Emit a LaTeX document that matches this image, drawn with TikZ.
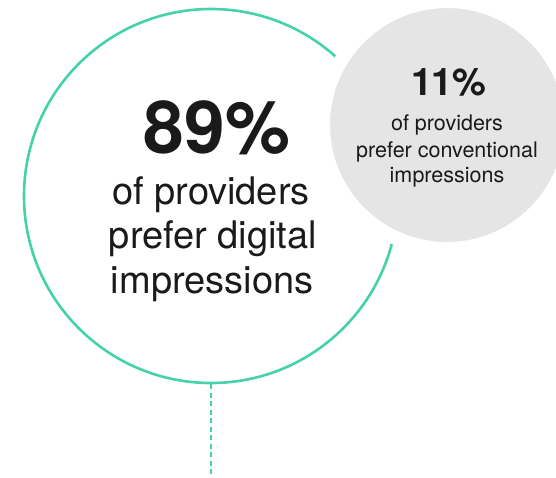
\documentclass[tikz,border=0pt]{standalone}
\usepackage{fontspec}
\setmainfont{TeX Gyre Heros}
\definecolor{mint}{HTML}{45D1AA}
\definecolor{softgrey}{HTML}{E5E5E5}
\definecolor{ink}{HTML}{1A1A1A}
\begin{document}
\begin{tikzpicture}[x=1pt,y=-1pt,
  ring/.style={draw=mint,line width=2.6pt},
  bigtxt/.style={anchor=base,text=ink,inner sep=0pt,font=\fontsize{38}{38}\selectfont},
  bignum/.style={anchor=base,text=ink,inner sep=0pt,font=\bfseries\fontsize{73}{73}\selectfont},
  smalltxt/.style={anchor=base,text=ink,inner sep=0pt,font=\fontsize{21.5}{21.5}\selectfont},
  smallnum/.style={anchor=base,text=ink,inner sep=0pt,font=\bfseries\fontsize{38}{38}\selectfont}]
\useasboundingbox (0,0) rectangle (556,477);
\begin{scope}
\clip (0,0) rectangle (556,477);
\node[ring,circle,minimum size=374pt,inner sep=0pt] (big) at (211,196) {};
\coordinate (lineend) at (211,477);
\draw[mint,line width=2.6pt,dash pattern=on 5pt off 3.5pt] (big.south) -- (lineend);
\node[circle,fill=softgrey,draw=white,line width=14pt,minimum size=248pt,inner sep=0pt] (small) at (447,125) {};
\end{scope}
\node[bignum] (pct) at (217,153) {89\%};
\node[bigtxt] (l1) at (211,204) {of providers};
\node[bigtxt] (l2) at (213,248) {prefer digital};
\node[bigtxt] (l3) at (212,293) {impressions};
\node[smallnum] (pct2) at (449,95) {1\kern-2pt1\%};
\node[smalltxt] (s1) at (447,130) {of providers};
\node[smalltxt] (s2) at (447,157) {prefer conventional};
\node[smalltxt] (s3) at (447,182) {impressions};
\end{tikzpicture}
\end{document}
